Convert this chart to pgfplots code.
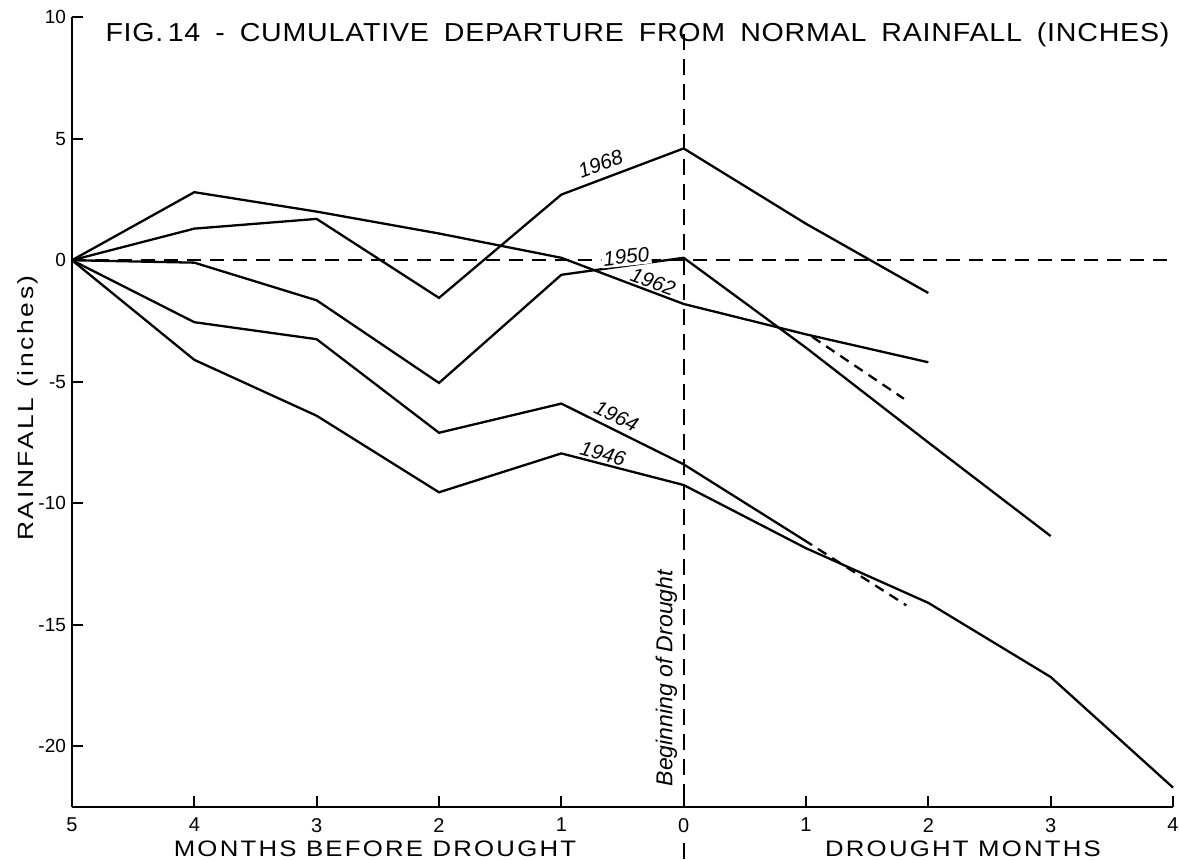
\documentclass[border=0pt]{standalone}
\usepackage{fontspec}
\setmainfont{Liberation Sans}
\newfontfamily\titlefont[FakeStretch=1.1, LetterSpace=3]{Liberation Sans}
\newfontfamily\wide[FakeStretch=1.15, LetterSpace=10]{Liberation Sans}
\newfontfamily\ylabfont[FakeStretch=1.2, LetterSpace=12]{Liberation Sans}
\usepackage{pgfplots}
\pgfplotsset{compat=1.18}
\tikzset{
  ser/.style={black, line width=1.15pt, mark=none},
  yl/.style={font=\itshape\fontsize{10.3}{12}\selectfont, inner sep=0.3pt},
}
\begin{document}
\begin{tikzpicture}
\useasboundingbox (0pt,0pt) rectangle (589.5pt,429.5pt);
\begin{axis}[
  at={(36pt,26pt)}, anchor=south west,
  scale only axis, width=550.5pt, height=394.9pt,
  xmin=-5, xmax=4, ymin=-22.5, ymax=10,
  axis lines*=left,
  axis line style={-, line width=1.15pt},
  xtick={-5,-4,-3,-2,-1,0,1,2,3,4},
  xticklabels={5,4,3,2,1,0,1,2,3,4},
  ytick={-20,-15,-10,-5,0,5,10},
  yticklabels={-20,-15,-10,-5,0,5,10},
  xtick pos=bottom, ytick pos=left,
  tick align=inside,
  major tick length=5.5pt,
  tick style={line width=0.9pt, black},
  x tick label style={font=\fontsize{10}{12}\selectfont, yshift=-2pt},
  y tick label style={font=\fontsize{9.5}{11}\selectfont, xshift=0.5pt},
  clip=false,
]
% reference lines
\addplot[black, line width=1.15pt, dash pattern=on 7pt off 4.5pt] coordinates {(-5,0) (4,0)};
\addplot[black, line width=1.15pt, dash pattern=on 8pt off 4.5pt] coordinates {(0,9.3) (0,-22.5)};
\addplot[black, line width=1.15pt, dash pattern=on 8pt off 4.5pt] coordinates {(0,-24.0) (0,-24.7)};
% 1968
\addplot[ser] coordinates {(-5,0) (-4,1.3) (-3,1.7) (-2,-1.55) (-1,2.7) (0,4.6) (1,1.5) (2,-1.35)};
% 1962
\addplot[ser] coordinates {(-5,0) (-4,2.8) (-3,2.0) (-2,1.1) (-1,0.1) (0,-1.8) (1,-3.05) (2,-4.2)};
% 1950
\addplot[ser] coordinates {(-5,0) (-4,-0.1) (-3,-1.65) (-2,-5.05) (-1,-0.6) (0,0.1) (1,-3.6) (2,-7.5) (3,-11.35)};
\addplot[black, line width=1.15pt, dash pattern=on 5pt off 3.5pt] coordinates {(1.05,-3.15) (1.8,-5.7)};
% 1964
\addplot[ser] coordinates {(-5,0) (-4,-2.55) (-3,-3.25) (-2,-7.1) (-1,-5.9) (0,-8.4) (0.98,-11.5)};
\addplot[black, line width=1.15pt, dash pattern=on 5pt off 3.5pt] coordinates {(0.98,-11.5) (1.82,-14.2)};
% 1946
\addplot[ser] coordinates {(-5,0) (-4,-4.1) (-3,-6.4) (-2,-9.55) (-1,-7.95) (0,-9.25) (1,-11.85) (2,-14.1) (3,-17.15) (4,-21.7)};
% labels
\node[yl, rotate=20] at (axis cs:-0.68,3.95) {1968};
\node[yl, rotate=6, fill=white, inner sep=1pt] at (axis cs:-0.47,0.15) {1950};
\node[yl, rotate=-20] at (axis cs:-0.25,-0.9) {1962};
\node[yl, rotate=-26] at (axis cs:-0.55,-6.4) {1964};
\node[yl, rotate=-15] at (axis cs:-0.66,-7.95) {1946};
\node[font=\itshape\fontsize{11.5}{13}\selectfont, rotate=90] at (axis cs:-0.14,-17.2) {Beginning of Drought};
\end{axis}
\node[font=\titlefont\fontsize{13}{15}\selectfont, anchor=base, inner sep=0pt] at (318.75pt,408.5pt) {\makebox[532pt][s]{FIG.\,14 - CUMULATIVE DEPARTURE FROM NORMAL RAINFALL (INCHES)}};
\node[font=\wide\fontsize{11.2}{13}\selectfont, anchor=base, inner sep=0pt] at (187.5pt,1.5pt) {MONTHS BEFORE DROUGHT};
\node[font=\wide\fontsize{11.2}{13}\selectfont, anchor=base, inner sep=0pt] at (481.5pt,1.5pt) {DROUGHT MONTHS};
\node[font=\ylabfont\fontsize{11}{13}\selectfont, rotate=90, anchor=base, inner sep=0pt] at (17pt,225.5pt) {RAINFALL (inches)};
\end{tikzpicture}
\end{document}
